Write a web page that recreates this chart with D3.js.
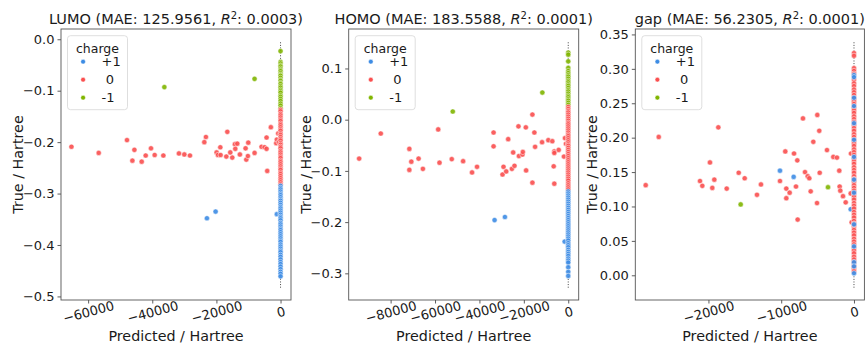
<!DOCTYPE html>
<html>
<head>
<meta charset="utf-8">
<script src="https://cdn.jsdelivr.net/npm/d3@7"></script>
<style>
    body { margin: 0; background: #fff; }
    text { font-family: "DejaVu Sans", sans-serif; fill: #1a1a1a; }
</style>
</head>
<body>
<div id="chart"></div>
<script>
// ---- data ----
// scattered points: [predicted, true]
var lumoPos = [[-22950, -0.348], [-20250, -0.335], [-1150, -0.340]];
var lumoNeg = [[-36230, -0.093], [-8100, -0.077]];
var lumoNeu = [[-65200, -0.209], [-56700, -0.221], [-47880, -0.196], [-46200, -0.236], [-45570, -0.215],
    [-43300, -0.238], [-42050, -0.226], [-40400, -0.212], [-39250, -0.225], [-36540, -0.226],
    [-31680, -0.222], [-30000, -0.224], [-28250, -0.226], [-23770, -0.200], [-23270, -0.190],
    [-19940, -0.220], [-19530, -0.225], [-18780, -0.210], [-18690, -0.225], [-16910, -0.228],
    [-16600, -0.180], [-15670, -0.220], [-15050, -0.230], [-14230, -0.204], [-14110, -0.213],
    [-13490, -0.203], [-12680, -0.224], [-10900, -0.212], [-10680, -0.234], [-10060, -0.201],
    [-10180, -0.227], [-8100, -0.221], [-5920, -0.209], [-4980, -0.210], [-4360, -0.191],
    [-4360, -0.213], [-4150, -0.256], [-3020, -0.171], [-1340, -0.202], [-1150, -0.195],
    [-720, -0.183], [-530, -0.200]];
// points stacked on predicted ~ 0: true values only
var lumoNegCol = [-0.023, -0.044, -0.047, -0.051, -0.053, -0.057, -0.060, -0.062, -0.066, -0.069, -0.071,
    -0.075, -0.079, -0.081, -0.085, -0.087, -0.091, -0.094, -0.098, -0.101, -0.104, -0.109, -0.112,
    -0.116, -0.120, -0.125, -0.129, -0.134];
var lumoNeuCol = [-0.137, -0.140, -0.145, -0.148, -0.152, -0.156, -0.159, -0.164, -0.167, -0.171, -0.175,
    -0.178, -0.183, -0.186, -0.190, -0.194, -0.197, -0.202, -0.205, -0.209, -0.212, -0.217, -0.220,
    -0.224, -0.228, -0.231, -0.236, -0.239, -0.243, -0.247, -0.251, -0.254, -0.259, -0.262, -0.266,
    -0.270, -0.274, -0.278, -0.282];
var lumoPosCol = [-0.285, -0.289, -0.292, -0.296, -0.300, -0.303, -0.307, -0.311, -0.314, -0.318, -0.322,
    -0.326, -0.329, -0.333, -0.337, -0.341, -0.345, -0.348, -0.352, -0.357, -0.360, -0.364, -0.368,
    -0.371, -0.375, -0.379, -0.383, -0.387, -0.391, -0.394, -0.399, -0.403, -0.407, -0.411, -0.414,
    -0.419, -0.423, -0.428, -0.433, -0.437, -0.442, -0.447, -0.452, -0.456, -0.461];
var lumoDiag = [-0.483, -0.004];

var homoPos = [[-33180, -0.196], [-28520, -0.190], [-1610, -0.238]];
var homoNeg = [[-52010, 0.016], [-11660, 0.053]];
var homoNeu = [[-94170, -0.076], [-84430, -0.027], [-71560, -0.057], [-71560, -0.098], [-70670, -0.082],
    [-67400, -0.076], [-65460, -0.096], [-58560, -0.019], [-57980, -0.084], [-52460, -0.077],
    [-47350, -0.081], [-43320, -0.103], [-41080, -0.092], [-33630, -0.025], [-33630, -0.052],
    [-29600, -0.107], [-29150, -0.092], [-27940, -0.101], [-27040, -0.038], [-25380, -0.096],
    [-24800, -0.064], [-24210, -0.090], [-22420, -0.013], [-22240, -0.071], [-20630, -0.068],
    [-20450, -0.063], [-19100, -0.015], [-18970, -0.099], [-16140, 0.010], [-16140, -0.123],
    [-15250, -0.025], [-14930, -0.053], [-11790, -0.044], [-8970, -0.040], [-7170, -0.042],
    [-6550, -0.091], [-6280, -0.062], [-6280, -0.065], [-6280, -0.125], [-4300, -0.059],
    [-1930, -0.072], [-1480, -0.036], [-1030, -0.047]];
var homoNegCol = [0.131, 0.127, 0.114, 0.101, 0.095, 0.091, 0.087, 0.084, 0.080, 0.076, 0.073, 0.069,
    0.066, 0.062, 0.058, 0.055, 0.051, 0.047, 0.044, 0.040, 0.037, 0.033, 0.029];
var homoNeuCol = [0.025, 0.021, 0.017, 0.014, 0.010, 0.006, 0.002, -0.002, -0.006, -0.009, -0.013,
    -0.017, -0.021, -0.025, -0.029, -0.032, -0.036, -0.040, -0.044, -0.048, -0.051, -0.055, -0.059,
    -0.063, -0.067, -0.071, -0.075, -0.079, -0.083, -0.087, -0.091, -0.095, -0.099, -0.103, -0.107,
    -0.111, -0.115, -0.119, -0.124, -0.128, -0.132, -0.136];
var homoPosCol = [-0.140, -0.144, -0.148, -0.152, -0.156, -0.160, -0.164, -0.168, -0.172, -0.176, -0.180,
    -0.184, -0.188, -0.192, -0.196, -0.200, -0.204, -0.208, -0.212, -0.216, -0.220, -0.224, -0.228,
    -0.232, -0.236, -0.241, -0.245, -0.249, -0.254, -0.258, -0.262, -0.266, -0.271, -0.275, -0.279,
    -0.288, -0.297, -0.305];
var homoDiag = [-0.328, 0.153];

var gapPos = [[-10170, 0.152], [-8290, 0.143], [-450, 0.096]];
var gapNeg = [[-15570, 0.103], [-3570, 0.128]];
var gapNeu = [[-28620, 0.131], [-26830, 0.201], [-21160, 0.137], [-20840, 0.130], [-19790, 0.164],
    [-19470, 0.127], [-19190, 0.139], [-18640, 0.215], [-17490, 0.126], [-15840, 0.149],
    [-15020, 0.141], [-13330, 0.117], [-12780, 0.132], [-10170, 0.137], [-9440, 0.180],
    [-9300, 0.112], [-9300, 0.126], [-8840, 0.120], [-8240, 0.177], [-7970, 0.129],
    [-7790, 0.167], [-7740, 0.081], [-7010, 0.228], [-6730, 0.150], [-6360, 0.144],
    [-6140, 0.141], [-5950, 0.122], [-5590, 0.194], [-5080, 0.105], [-5040, 0.233],
    [-4770, 0.210], [-4710, 0.149], [-3710, 0.182], [-2840, 0.172], [-2340, 0.171],
    [-2020, 0.152], [-1970, 0.129], [-1880, 0.123], [-1510, 0.115], [-1140, 0.106],
    [-450, 0.119], [-410, 0.177], [-320, 0.077]];
var gapNeuCol = [0.323, 0.319, 0.301, 0.297, 0.293, 0.284, 0.279, 0.275, 0.270, 0.266, 0.262, 0.257,
    0.253, 0.249, 0.244, 0.240, 0.236, 0.231, 0.227, 0.223, 0.218, 0.214, 0.210, 0.205, 0.201, 0.196,
    0.192, 0.188, 0.183, 0.179, 0.175, 0.170, 0.166, 0.162, 0.157, 0.153, 0.149, 0.144, 0.140, 0.136,
    0.131, 0.127, 0.123, 0.118, 0.114, 0.110, 0.105, 0.101, 0.097, 0.092, 0.088, 0.084, 0.079, 0.075,
    0.071, 0.066, 0.062, 0.058, 0.053, 0.049, 0.045, 0.040, 0.036, 0.032, 0.027, 0.023, 0.019, 0.014,
    0.010, 0.006];
var gapPosCol = [0.291, 0.288, 0.258, 0.246, 0.221, 0.197, 0.172, 0.139, 0.120, 0.074, 0.042, 0.019,
    0.013, 0.003];
var gapDiag = [-0.018, 0.340];

// axis ticks
var lumoXTicks = [-60000, -40000, -20000, 0];
var lumoYTicks = [0.0, -0.1, -0.2, -0.3, -0.4, -0.5];
var homoXTicks = [-80000, -60000, -40000, -20000, 0];
var homoYTicks = [0.1, 0.0, -0.1, -0.2, -0.3];
var gapXTicks = [-20000, -10000, 0];
var gapYTicks = [0.00, 0.05, 0.10, 0.15, 0.20, 0.25, 0.30, 0.35];

var chargeLabels = ["+1", " 0", "-1"];
var chargeColors = ["#3d8ce4", "#fa4f4f", "#80b500"];

var width = 866, height = 344;
var plotTop = 29, plotBottom = 300;

var svg = d3.select("#chart").append("svg")
    .attr("width", width)
    .attr("height", height);

var panels = [
    {name: "LUMO", mae: "125.9561", r2: "0.0003", left: 61, right: 291,
     pos: lumoPos, neu: lumoNeu, neg: lumoNeg, posCol: lumoPosCol, neuCol: lumoNeuCol, negCol: lumoNegCol,
     diag: lumoDiag, xTicks: lumoXTicks, yTicks: lumoYTicks, yFmt: ".1f"},
    {name: "HOMO", mae: "183.5588", r2: "0.0001", left: 348.7, right: 578.7,
     pos: homoPos, neu: homoNeu, neg: homoNeg, posCol: homoPosCol, neuCol: homoNeuCol, negCol: homoNegCol,
     diag: homoDiag, xTicks: homoXTicks, yTicks: homoYTicks, yFmt: ".1f"},
    {name: "gap", mae: "56.2305", r2: "0.0001", left: 635.3, right: 864.4,
     pos: gapPos, neu: gapNeu, neg: gapNeg, posCol: gapPosCol, neuCol: gapNeuCol, negCol: [],
     diag: gapDiag, xTicks: gapXTicks, yTicks: gapYTicks, yFmt: ".2f"}
];

function fmtMinus(s) { return s.replace("-", "\u2212"); }

panels.forEach(function(p) {
    // columns sit at predicted ~ 0
    var toPts = function(arr) { return arr.map(function(v) { return [0, v]; }); };
    var groups = [
        {pts: p.neu, c: 1}, {pts: p.pos, c: 0}, {pts: p.neg, c: 2},
        {pts: toPts(p.negCol), c: 2}, {pts: toPts(p.neuCol), c: 1}, {pts: toPts(p.posCol), c: 0}
    ];
    var all = [];
    groups.forEach(function(g) { g.pts.forEach(function(d) { all.push({x: d[0], y: d[1], c: g.c}); }); });

    // matplotlib style 5% margins
    var xs = all.map(function(d) { return d.x; }).concat(p.diag);
    var ys = all.map(function(d) { return d.y; }).concat(p.diag);
    var xe = d3.extent(xs), ye = d3.extent(ys);
    var xm = (xe[1] - xe[0]) * 0.05, ym = (ye[1] - ye[0]) * 0.05;

    var x = d3.scaleLinear().domain([xe[0] - xm, xe[1] + xm]).range([p.left, p.right]);
    var y = d3.scaleLinear().domain([ye[0] - ym, ye[1] + ym]).range([plotBottom, plotTop]);

    var g = svg.append("g");

    // x axis
    var xAxis = g.append("g")
        .attr("transform", "translate(0," + plotBottom + ")")
        .call(d3.axisBottom(x).tickValues(p.xTicks).tickSize(3.5).tickPadding(3)
            .tickFormat(function(d) { return fmtMinus(String(d)); }));
    xAxis.select(".domain").remove();
    xAxis.selectAll("line").attr("stroke", "#333").attr("stroke-width", 0.8);
    xAxis.selectAll("text")
        .attr("fill", "#1a1a1a")
        .style("font-size", "13px")
        .attr("y", 0).attr("dy", 0)
        .attr("text-anchor", "middle")
        .attr("dominant-baseline", "central")
        .attr("transform", "translate(0,12) rotate(-15)");

    // y axis
    var yAxis = g.append("g")
        .attr("transform", "translate(" + p.left + ",0)")
        .call(d3.axisLeft(y).tickValues(p.yTicks).tickSize(3.5).tickPadding(3)
            .tickFormat(function(d) { return fmtMinus(d3.format(p.yFmt)(d)); }));
    yAxis.select(".domain").remove();
    yAxis.selectAll("line").attr("stroke", "#333").attr("stroke-width", 0.8);
    yAxis.selectAll("text").attr("fill", "#1a1a1a").style("font-size", "13px");

    // identity line, drawn under the points
    g.append("line")
        .attr("x1", x(p.diag[0])).attr("y1", y(p.diag[0]))
        .attr("x2", x(p.diag[1])).attr("y2", y(p.diag[1]))
        .attr("stroke", "#444")
        .attr("stroke-width", 1)
        .attr("stroke-dasharray", "1,1.6");

    // points
    g.selectAll(".pt")
        .data(all)
        .enter().append("circle")
        .attr("class", "pt")
        .attr("cx", function(d) { return x(d.x); })
        .attr("cy", function(d) { return y(d.y); })
        .attr("r", 2.6)
        .attr("fill", function(d) { return chargeColors[d.c]; })
        .attr("fill-opacity", 0.9)
        .attr("stroke", "#fff")
        .attr("stroke-width", 0.5);

    // frame
    g.append("rect")
        .attr("x", p.left).attr("y", plotTop)
        .attr("width", p.right - p.left).attr("height", plotBottom - plotTop)
        .attr("fill", "none")
        .attr("stroke", "#555")
        .attr("stroke-width", 0.9);

    var cx = (p.left + p.right) / 2;

    // title
    var title = g.append("text")
        .attr("x", cx).attr("y", 24)
        .attr("text-anchor", "middle")
        .style("font-size", "14.5px");
    title.append("tspan").text(p.name + " (MAE: " + p.mae + ", ");
    title.append("tspan").style("font-style", "italic").text("R");
    title.append("tspan").attr("dy", -5).style("font-size", "10px").text("2");
    title.append("tspan").attr("dy", 5).text(": " + p.r2 + ")");

    // axis labels
    g.append("text")
        .attr("x", cx).attr("y", 341)
        .attr("text-anchor", "middle")
        .style("font-size", "14.3px")
        .text("Predicted / Hartree");

    g.append("text")
        .attr("transform", "translate(" + (p.left - 43) + "," + ((plotTop + plotBottom) / 2) + ") rotate(-90)")
        .attr("text-anchor", "middle")
        .attr("dy", "0.35em")
        .style("font-size", "14.3px")
        .text("True / Hartree");

    // legend
    var lx = p.left + 6.5, ly = plotTop + 6.7;
    var leg = g.append("g").attr("transform", "translate(" + lx + "," + ly + ")");
    leg.append("rect")
        .attr("width", 60).attr("height", 74).attr("rx", 3)
        .attr("fill", "#fff").attr("fill-opacity", 0.8)
        .attr("stroke", "#d6d6d6").attr("stroke-width", 0.8);
    leg.append("text")
        .attr("x", 30).attr("y", 17)
        .attr("text-anchor", "middle")
        .style("font-size", "12.5px")
        .text("charge");
    chargeLabels.forEach(function(lab, i) {
        leg.append("circle")
            .attr("cx", 15.6).attr("cy", 26 + i * 18)
            .attr("r", 2.4)
            .attr("fill", chargeColors[i])
            .attr("stroke", "#fff").attr("stroke-width", 0.5);
        leg.append("text")
            .attr("x", 34).attr("y", 26 + i * 18)
            .attr("dy", "0.36em")
            .style("font-size", "13px")
            .style("white-space", "pre")
            .text(lab);
    });
});
</script>
</body>
</html>
